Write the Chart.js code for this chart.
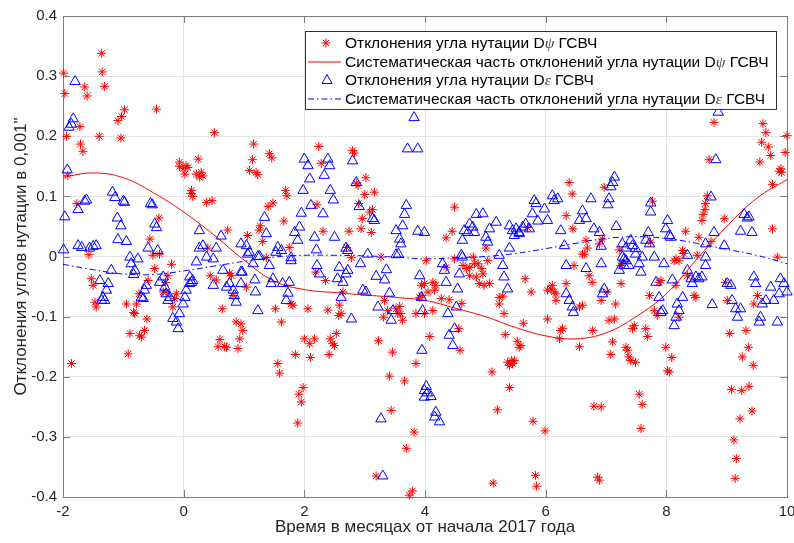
<!DOCTYPE html>
<html>
<head>
<meta charset="utf-8">
<script src="https://cdn.jsdelivr.net/npm/chart.js@4.4.1/dist/chart.umd.min.js"></script>
<style>
  body { margin: 0; background: #fff; }
  #wrap { width: 794px; height: 543px; }
</style>
</head>
<body>
<div id="wrap"><canvas id="myChart"></canvas></div>
<script>
// observed deviations D-psi (red asterisks), [month, value]
var dPsiObs = [
  [-1.36,0.338],[-1.35,0.307],[-1.99,0.305],[-1.64,0.282],[-1.31,0.283],[-1.97,0.271],[-1.6,0.267],[-0.98,0.244],
  [-0.45,0.245],[-1.03,0.233],[-1.09,0.226],[-1.72,0.216],[-1.94,0.2],[-1.4,0.2],[-1.04,0.197],[0.51,0.206],
  [-1.71,0.187],[-1.67,0.175],[-0.07,0.157],[0.04,0.151],[-0.07,0.15],[-0.01,0.146],[0.07,0.148],[0.24,0.162],
  [0.21,0.137],[0.29,0.14],[0.32,0.134],[0.26,0.132],[0.02,0.137],[-1.92,0.135],[0.13,0.11],[0.15,0.1],
  [0.12,0.105],[0.38,0.09],[0.47,0.093],[-1.77,0.088],[-0.41,0.064],[0.73,0.044],[-0.56,0.029],[0.4,0.014],
  [-1.57,0.003],[-0.51,0.002],[-0.4,0.004],
  [1.16,0.187],[2.24,0.183],[1.42,0.171],[1.46,0.164],[2.8,0.176],[2.83,0.172],[1.14,0.161],[2.28,0.155],
  [1.09,0.143],[1.2,0.14],[1.23,0.136],[3.02,0.131],[2.86,0.122],[2.89,0.118],[1.69,0.11],[1.71,0.101],
  [3.0,0.103],[3.16,0.107],[1.48,0.089],[1.4,0.083],[2.21,0.086],[2.9,0.088],[3.08,0.074],[3.13,0.078],
  [1.66,0.059],[2.96,0.063],[1.27,0.051],[1.25,0.044],[2.94,0.046],[2.31,0.042],[2.74,0.042],[3.11,0.04],
  [1.06,0.035],[1.31,0.025],[1.75,0.015],[2.7,0.015],[1.37,-0.002],[3.27,-0.001],
  [6.39,0.123],[6.44,0.104],[6.97,0.115],[4.49,0.082],[6.34,0.068],[6.45,0.046],[5.7,0.048],[4.45,0.042],
  [4.35,0.031],[5.01,0.014],[6.67,0.027],[6.69,0.014],[6.61,0.004],[6.89,0.021],
  [8.79,0.223],[9.6,0.221],[9.65,0.206],[10.0,0.201],[9.58,0.19],[9.69,0.182],[9.73,0.168],[9.97,0.173],
  [8.71,0.161],[9.55,0.157],[9.9,0.146],[9.91,0.14],[9.87,0.142],[9.76,0.12],[8.68,0.101],[8.65,0.088],
  [8.64,0.078],[8.61,0.07],[8.59,0.06],[7.77,0.092],[8.96,0.063],[9.76,0.046],[8.32,0.042],[8.54,0.032],
  [8.74,0.025],[6.94,0.029],[7.74,0.024],[7.22,0.011],[8.27,0.01],[8.29,0.005],[8.51,0.002],[9.84,-0.001],
  [8.16,-0.004],
  [-1.53,-0.037],[-1.5,-0.048],[-1.47,-0.076],[-1.45,-0.084],[-1.86,-0.178],[-0.95,-0.079],[-0.78,-0.079],
  [-0.83,-0.093],[-0.81,-0.095],[-0.74,-0.062],[-0.61,-0.104],[-0.89,-0.128],[-0.73,-0.131],[-0.7,-0.134],
  [-0.65,-0.123],[-0.92,-0.162],[-0.59,-0.04],[-0.48,-0.02],[-0.2,-0.013],[-0.26,-0.032],[-0.3,-0.043],
  [-0.34,-0.059],[-0.29,-0.059],[-0.12,-0.062],[-0.15,-0.07],[-0.18,-0.084],[0.44,-0.032],[0.54,-0.039],
  [0.76,-0.028],[0.79,-0.032],[0.64,-0.087],[0.82,-0.065],[0.87,-0.109],[0.95,-0.112],[0.98,-0.123],
  [0.6,-0.138],[0.57,-0.15],[0.68,-0.15],[0.71,-0.151],[0.93,-0.137],[0.9,-0.153],
  [1.04,-0.051],[1.52,-0.087],[1.62,-0.109],[1.78,-0.079],[1.81,-0.081],[1.56,-0.178],[1.59,-0.194],
  [1.85,-0.163],[1.98,-0.218],[1.91,-0.229],[1.95,-0.242],[1.89,-0.277],[2.06,-0.087],[2.0,-0.137],
  [2.09,-0.145],[2.17,-0.137],[2.1,-0.168],[2.19,-0.026],[2.35,-0.04],[2.39,-0.089],[2.43,-0.137],
  [2.5,-0.148],[2.53,-0.128],[2.47,-0.145],[2.41,-0.163],[2.58,-0.081],[2.61,-0.095],[2.57,-0.098],
  [2.64,-0.059],[2.78,-0.002],[3.23,-0.14],[3.46,-0.159],[3.41,-0.199],[3.66,-0.207],[3.85,-0.178],
  [3.44,-0.256],[3.82,-0.292],[3.69,-0.319],[3.19,-0.365],[3.74,-0.397],[3.79,-0.39],[3.33,-0.073],
  [3.31,-0.101],[3.38,-0.09],[3.52,-0.087],[3.58,-0.083],[3.6,-0.095],[3.63,-0.106],[3.55,-0.095],
  [3.94,-0.048],[3.95,-0.065],[3.85,-0.095],[3.99,-0.095],
  [4.02,-0.007],[3.99,-0.045],[4.13,-0.043],[4.18,-0.048],[4.05,-0.059],[4.16,-0.056],[3.91,-0.068],
  [4.27,-0.07],[4.4,-0.072],[4.61,-0.078],[4.13,-0.09],[4.35,-0.018],[4.49,-0.004],[4.63,-0.015],
  [4.69,-0.02],[4.74,-0.018],[4.8,-0.001],[4.82,-0.012],[4.88,-0.012],[4.94,-0.02],[4.74,-0.032],
  [4.85,-0.034],[4.96,-0.029],[5.04,-0.007],[4.9,-0.045],[4.98,-0.048],[5.07,-0.045],[4.56,-0.12],
  [4.58,-0.156],[4.08,-0.133],[5.23,-0.068],[5.29,-0.066],[5.23,-0.079],[5.31,-0.095],[5.33,-0.13],
  [5.66,-0.037],[5.76,-0.059],[5.63,-0.111],[5.53,-0.141],[5.59,-0.148],[5.56,-0.151],[5.37,-0.176],
  [5.43,-0.173],[5.48,-0.173],[5.45,-0.178],[5.4,-0.181],[5.11,-0.192],[5.4,-0.218],[5.2,-0.255],
  [5.79,-0.274],[5.99,-0.29],[5.13,-0.377],[5.83,-0.364],[5.85,-0.382],[6.03,-0.056],[6.09,-0.054],
  [6.11,-0.048],[6.14,-0.059],[6.17,-0.073],[6.34,-0.045],[6.17,-0.062],[6.03,-0.104],[6.28,-0.12],
  [6.25,-0.123],[6.23,-0.137],[6.56,-0.15],[6.78,-0.123],[6.56,-0.084],[6.61,-0.081],[6.47,-0.015],
  [6.72,-0.032],[6.77,-0.043],[6.64,0.004],[6.8,-0.249],[6.92,-0.25],[6.86,-0.367],[6.89,-0.372],
  [6.92,-0.073],
  [7.25,-0.015],[7.27,-0.012],[7.25,-0.045],[7.02,-0.059],[7.16,-0.079],[7.05,-0.106],[7.14,-0.104],
  [7.47,-0.115],[7.44,-0.12],[7.66,-0.12],[7.69,-0.133],[7.11,-0.142],[7.08,-0.163],[7.33,-0.151],
  [7.36,-0.156],[7.38,-0.167],[7.49,-0.176],[7.41,-0.173],[7.72,-0.065],[7.8,-0.09],[7.85,-0.098],
  [7.91,-0.04],[7.88,-0.043],[7.99,-0.151],[8.09,-0.168],[8.05,-0.192],[8.02,-0.19],[7.55,-0.229],
  [7.6,-0.246],[7.58,-0.286],[8.13,-0.007],[8.21,-0.007],[8.35,-0.032],[8.16,-0.048],[8.21,-0.101],
  [8.46,-0.065],[8.49,-0.068],[8.98,-0.043],[9.01,-0.073],[9.05,-0.128],[9.32,-0.123],[9.51,-0.065],
  [9.45,-0.079],[9.36,-0.151],[9.26,-0.167],[9.44,-0.181],[9.08,-0.221],[9.25,-0.223],[9.37,-0.216],
  [9.42,-0.257],[9.22,-0.27],[9.12,-0.305],[9.16,-0.336],[9.14,-0.369]
];

// observed deviations D-eps (blue triangles)
var dEpsObs = [
  [-1.8,0.291],[-1.83,0.229],[-1.86,0.22],[-1.9,0.215],[-1.93,0.144],[-1.18,0.107],[-1.14,0.098],[-1.61,0.094],
  [-1.64,0.092],[-1.0,0.092],[-0.98,0.09],[-0.55,0.088],[-0.52,0.086],[-1.75,0.078],[-1.97,0.066],[-1.1,0.064],
  [-1.04,0.051],[-0.48,0.054],[-0.45,0.048],[0.26,0.043],[0.62,0.034],[-1.09,0.028],[-0.95,0.025],[-1.75,0.018],
  [-1.69,0.015],[-1.56,0.014],[-1.5,0.017],[-1.45,0.018],[-1.99,0.011],[-0.59,0.014],[-0.43,0.01],[0.26,0.014],
  [0.32,0.018],[0.54,0.014],[0.95,0.021],[-0.89,-0.001],[-0.76,-0.004],[0.38,-0.001],[0.49,-0.004],
  [3.82,0.231],[2.0,0.162],[2.06,0.151],[2.39,0.162],[2.42,0.151],[2.8,0.159],[2.33,0.135],[2.09,0.129],
  [2.86,0.123],[1.98,0.11],[2.43,0.11],[2.48,0.094],[3.71,0.179],[3.88,0.179],[3.69,0.085],[2.11,0.085],
  [2.31,0.071],[2.91,0.083],[1.95,0.072],[1.34,0.065],[1.37,0.038],[3.13,0.063],[3.16,0.06],[3.66,0.07],
  [3.63,0.051],[1.92,0.049],[1.84,0.04],[1.89,0.027],[3.52,0.043],[3.58,0.029],[3.6,0.021],[2.17,0.032],
  [2.2,0.011],[3.88,0.042],[2.5,0.032],[1.04,0.018],[1.09,0.007],[1.56,0.015],[1.62,0.01],[2.69,0.014],
  [2.72,0.01],[3.52,0.003],[1.23,0],[1.78,-0.002],
  [5.81,0.093],[5.84,0.088],[6.11,0.101],[6.14,0.093],[6.2,0.096],[6.75,0.096],[5.98,0.079],[6.03,0.06],
  [4.85,0.07],[4.96,0.071],[5.18,0.057],[5.78,0.071],[5.87,0.059],[6.61,0.076],[6.67,0.063],[6.56,0.06],
  [4.74,0.054],[4.79,0.049],[4.82,0.04],[4.71,0.04],[5.07,0.046],[5.01,0.032],[5.04,0.024],[4.65,0.043],
  [4.62,0.027],[5.4,0.051],[5.45,0.043],[5.51,0.046],[5.56,0.04],[5.62,0.049],[5.67,0.054],[5.73,0.046],
  [6.25,0.043],[6.8,0.046],[6.89,0.04],[5.48,0.035],[5.56,0.038],[3.99,0.04],[5.4,0.014],[6.31,0.018],
  [4.62,-0.001],[5.23,0.002],
  [8.86,0.24],[8.82,0.161],[7.14,0.132],[7.11,0.123],[7.08,0.116],[7.05,0.096],[7.03,0.086],[8.74,0.099],
  [7.74,0.089],[7.74,0.074],[9.29,0.07],[9.37,0.066],[9.34,0.064],[8.02,0.06],[7.99,0.046],[8.05,0.035],
  [7.17,0.05],[9.23,0.042],[9.42,0.04],[8.79,0.04],[7.7,0.04],[7.66,0.027],[7.72,0.021],[7.41,0.027],
  [7.27,0.021],[7.44,0.018],[7.49,0.013],[7.33,0.014],[8.07,0.032],[8.96,0.018],[8.65,0.021],[8.35,0.002],
  [8.65,-0.001],[7.6,-0.001],[7.3,-0.004],[6.92,0.017],
  [-0.87,-0.012],[-0.81,-0.023],[-0.83,-0.03],[-1.2,-0.023],[-1.39,-0.04],[-1.25,-0.045],[-1.28,-0.056],
  [-1.34,-0.068],[-1.36,-0.073],[-1.31,-0.073],[-0.62,-0.048],[-0.65,-0.056],[-0.7,-0.068],[-0.67,-0.07],
  [-0.34,-0.034],[-0.4,-0.043],[-0.31,-0.051],[-0.29,-0.062],[-0.23,-0.068],[-0.26,-0.073],[-0.18,-0.103],
  [-0.12,-0.109],[-0.09,-0.12],[-0.07,-0.095],[-0.01,-0.079],[0.02,-0.068],[0.04,-0.056],[0.1,-0.034],
  [0.13,-0.043],[0.15,-0.04],[0.1,-0.045],[0.21,-0.009],[0.49,-0.048],[0.65,-0.023],[0.71,-0.051],
  [0.76,-0.045],[0.82,-0.056],[0.87,-0.076],[0.84,-0.065],[0.95,-0.026],
  [1.06,0.004],[1.26,0],[1.15,-0.012],[1.53,0.007],[1.78,-0.007],[0.97,-0.026],[0.95,-0.045],[1.18,-0.039],
  [1.19,-0.059],[1.42,-0.015],[1.48,-0.037],[1.45,-0.045],[1.64,-0.045],[1.75,-0.043],[1.73,-0.061],
  [1.7,-0.073],[1.23,-0.09],[2.21,-0.015],[2.25,-0.029],[2.58,-0.018],[2.55,-0.037],[2.64,-0.043],
  [2.69,-0.029],[2.72,-0.023],[2.61,-0.068],[2.93,-0.012],[3.05,0.004],[2.78,-0.104],[2.97,-0.056],
  [3.02,-0.059],[3.19,-0.033],[3.33,-0.039],[3.36,-0.022],[3.22,-0.084],[3.41,-0.061],[3.44,-0.106],
  [3.47,-0.09],[3.56,0.004],[3.91,-0.032],[3.94,-0.068],[3.96,-0.09],[3.95,-0.156],[3.99,-0.223],
  [3.99,-0.234],[3.27,-0.27],[3.3,-0.365],
  [4.29,-0.012],[4.32,-0.023],[4.35,-0.043],[4.6,0.002],[4.57,-0.029],[4.54,-0.054],[4.52,-0.084],
  [4.38,-0.095],[4.49,-0.12],[4.4,-0.131],[4.46,-0.148],[4.02,-0.216],[4.04,-0.227],[4.1,-0.233],
  [4.18,-0.259],[4.16,-0.267],[4.24,-0.275],[5.29,-0.015],[5.31,-0.034],[5.37,-0.054],[6.34,-0.015],
  [6.34,-0.062],[6.39,-0.073],[6.44,-0.084],[6.46,-0.093],[6.67,-0.02],[6.92,-0.012],[6.94,-0.062],
  [6.97,-0.054],[7.22,-0.023],[7.3,-0.015],[7.33,-0.007],[7.27,-0.001],[7.38,-0.015],[7.55,-0.012],
  [7.58,-0.026],[7.49,0.004],[7.8,-0.001],[7.96,-0.012],[7.83,-0.043],[7.88,-0.068],[7.91,-0.093],
  [7.94,-0.09],[8.18,-0.079],[8.21,-0.09],[8.16,-0.101],[8.13,-0.115],[8.27,-0.068],[8.1,-0.039],
  [8.35,-0.023],[8.41,-0.037],[8.43,-0.045],[8.49,-0.034],[8.54,-0.037],[8.59,-0.034],[8.65,-0.015],
  [8.76,-0.08],[9.01,-0.045],[9.07,-0.048],[9.09,-0.073],[9.15,-0.087],[9.18,-0.101],[9.23,-0.087],
  [9.45,-0.034],[9.48,-0.045],[9.59,-0.079],[9.65,-0.073],[9.56,-0.101],[9.54,-0.109],[9.73,-0.051],
  [9.78,-0.073],[9.89,-0.037],[9.95,-0.045],[10.0,-0.059],[9.87,-0.062],[9.84,-0.109]
];

// systematic parts, read every half month
var trendMonths = [-2,-1.5,-1,-0.5,0,0.5,1,1.5,2,2.5,3,3.5,4,4.5,5,5.5,6,6.5,7,7.5,8,8.5,9,9.5,10];
var dPsiTrend = [0.132,0.139,0.131,0.106,0.074,0.036,-0.006,-0.041,-0.055,-0.06,-0.064,-0.068,-0.073,
  -0.086,-0.1,-0.118,-0.132,-0.137,-0.127,-0.1,-0.062,-0.005,0.05,0.097,0.128];
var dEpsTrend = [-0.013,-0.022,-0.029,-0.03,-0.024,-0.016,-0.008,-0.001,0.002,0.002,0.001,-0.001,-0.004,
  -0.002,0.0,0.005,0.013,0.022,0.03,0.033,0.03,0.022,0.012,0.002,-0.012];

var xTicks = [-2, 0, 2, 4, 6, 8, 10];
var legendLabels = [
  ['Отклонения угла нутации D', 'ψ', ' ГСВЧ'],
  ['Систематическая часть отклонений угла нутации D', 'ψ', ' ГСВЧ'],
  ['Отклонения угла нутации D', 'ε', ' ГСВЧ'],
  ['Систематическая часть отклонений угла нутации D', 'ε', ' ГСВЧ']
];

function toPoints(arr) {
  return arr.map(function (p) { return { x: p[0], y: p[1] }; });
}
function trendPoints(ys) {
  return trendMonths.map(function (m, i) { return { x: m, y: ys[i] }; });
}

var FONT = '"Liberation Sans", Arial, sans-serif';
var AXIS_COLOR = '#7d7d7d';

function drawStar(ctx, x, y, r) {
  var d = r * 0.7071;
  ctx.moveTo(x - r, y); ctx.lineTo(x + r, y);
  ctx.moveTo(x, y - r); ctx.lineTo(x, y + r);
  ctx.moveTo(x - d, y - d); ctx.lineTo(x + d, y + d);
  ctx.moveTo(x - d, y + d); ctx.lineTo(x + d, y - d);
}

var matlabAxes = {
  id: 'matlabAxes',
  beforeDatasetsDraw: function (chart) {
    var ctx = chart.ctx, a = chart.chartArea;
    var xs = chart.scales.x, ys = chart.scales.y;
    ctx.save();
    ctx.strokeStyle = AXIS_COLOR;
    ctx.lineWidth = 1;
    ctx.beginPath();
    xs.ticks.forEach(function (t) {
      var px = Math.round(xs.getPixelForValue(t.value)) + 0.5;
      ctx.moveTo(px, a.bottom); ctx.lineTo(px, a.bottom - 7);
      ctx.moveTo(px, a.top); ctx.lineTo(px, a.top + 7);
    });
    ys.ticks.forEach(function (t) {
      var py = Math.round(ys.getPixelForValue(t.value)) + 0.5;
      ctx.moveTo(a.left, py); ctx.lineTo(a.left + 7, py);
      ctx.moveTo(a.right, py); ctx.lineTo(a.right - 7, py);
    });
    ctx.stroke();
    ctx.strokeRect(Math.round(a.left) + 0.5, Math.round(a.top) + 0.5,
      Math.round(a.right - a.left), Math.round(a.bottom - a.top));
    ctx.restore();
  },
  afterDraw: function (chart) {
    var ctx = chart.ctx;
    var bx = 305, by = 31, bw = 471, bh = 78;
    ctx.save();
    ctx.fillStyle = '#fff';
    ctx.fillRect(bx, by, bw, bh);
    ctx.strokeStyle = '#333';
    ctx.lineWidth = 1;
    ctx.strokeRect(bx + 0.5, by + 0.5, bw, bh);
    legendLabels.forEach(function (parts, i) {
      var cy = 43 + i * 18.5;
      ctx.beginPath();
      if (i === 0) {
        ctx.strokeStyle = '#ff0000';
        drawStar(ctx, 326, cy, 4.5);
        ctx.stroke();
      } else if (i === 2) {
        ctx.strokeStyle = '#0000ff';
        ctx.moveTo(327, cy - 5.5); ctx.lineTo(332, cy + 3.5); ctx.lineTo(322, cy + 3.5); ctx.closePath();
        ctx.stroke();
      } else {
        ctx.strokeStyle = i === 1 ? '#ff0000' : '#0000ff';
        ctx.setLineDash(i === 1 ? [] : [6, 3, 1.5, 3]);
        ctx.moveTo(308, cy + 0.5); ctx.lineTo(341, cy + 0.5);
        ctx.stroke();
        ctx.setLineDash([]);
      }
      var tx = 345;
      ctx.textBaseline = 'middle';
      parts.forEach(function (s, k) {
        ctx.font = k === 1 ? 'italic 15.5px "Liberation Serif", serif' : '15.5px ' + FONT;
        ctx.fillStyle = k === 1 ? '#444' : '#000';
        ctx.fillText(s, tx, cy + 1);
        tx += ctx.measureText(s).width;
      });
    });
    ctx.restore();
  }
};

var ctx = document.getElementById('myChart');
var myChart = new Chart(ctx, {
  type: 'scatter',
  data: {
    datasets: [
      {
        label: 'Отклонения угла нутации Dψ ГСВЧ',
        data: toPoints(dPsiObs),
        pointStyle: 'star',
        pointRadius: 4.5,
        pointBorderColor: '#ff0000',
        pointBackgroundColor: '#ff0000',
        pointBorderWidth: 1,
        clip: false,
        order: 4
      },
      {
        type: 'line',
        label: 'Систематическая часть отклонений угла нутации Dψ ГСВЧ',
        data: trendPoints(dPsiTrend),
        borderColor: '#ff0000',
        borderWidth: 1,
        pointRadius: 0,
        tension: 0.4,
        fill: false,
        order: 3
      },
      {
        label: 'Отклонения угла нутации Dε ГСВЧ',
        data: toPoints(dEpsObs),
        pointStyle: 'triangle',
        pointRadius: 6,
        pointBorderColor: '#0000ff',
        pointBackgroundColor: 'rgba(0,0,0,0)',
        pointBorderWidth: 1,
        clip: false,
        order: 2
      },
      {
        type: 'line',
        label: 'Систематическая часть отклонений угла нутации Dε ГСВЧ',
        data: trendPoints(dEpsTrend),
        borderColor: '#0000ff',
        borderWidth: 1,
        borderDash: [6, 3, 1.5, 3],
        pointRadius: 0,
        tension: 0.4,
        fill: false,
        order: 1
      }
    ]
  },
  options: {
    responsive: true,
    maintainAspectRatio: false,
    animation: false,
    layout: { padding: { top: 16, right: 5, left: 0, bottom: 0 } },
    plugins: {
      legend: { display: false },
      tooltip: { enabled: false }
    },
    scales: {
      x: {
        type: 'linear',
        min: -2,
        max: 10,
        afterBuildTicks: function (scale) {
          scale.ticks = xTicks.map(function (v) { return { value: v }; });
        },
        afterFit: function (scale) {
          scale.height = 46;
          scale.paddingLeft = 0;
          scale.paddingRight = 0;
        },
        border: { display: false },
        grid: { color: '#e4e4e4', drawTicks: false },
        ticks: {
          color: '#262626',
          padding: 6,
          maxRotation: 0,
          font: { family: FONT, size: 15 }
        },
        title: {
          display: true,
          text: 'Время в месяцах от начала 2017 года',
          color: '#262626',
          padding: { top: 0, bottom: 5 },
          font: { family: FONT, size: 17 }
        }
      },
      y: {
        type: 'linear',
        min: -0.4,
        max: 0.4,
        afterFit: function (scale) { scale.width = 63; },
        border: { display: false },
        grid: { color: '#e4e4e4', drawTicks: false },
        ticks: {
          stepSize: 0.1,
          color: '#262626',
          padding: 6,
          font: { family: FONT, size: 15 },
          callback: function (v) { return String(Math.round(v * 10) / 10); }
        },
        title: {
          display: true,
          text: 'Отклонения углов нутации в 0,001"',
          color: '#262626',
          padding: { top: 11, bottom: 0 },
          font: { family: FONT, size: 17 }
        }
      }
    }
  },
  plugins: [matlabAxes]
});
</script>
</body>
</html>
